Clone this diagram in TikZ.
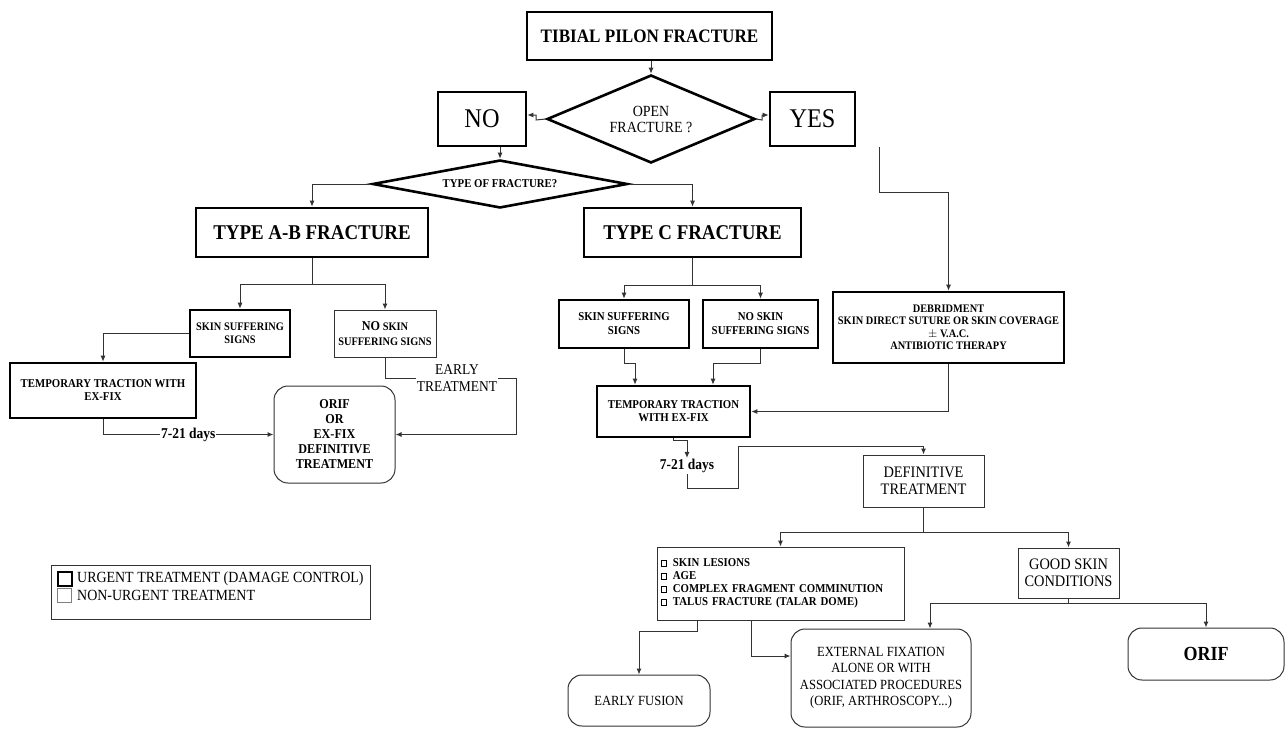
\documentclass[tikz,border=0pt]{standalone}
\usepackage{fontspec}
\setmainfont{Liberation Serif}[FakeStretch=0.9]
\usetikzlibrary{shapes.geometric,arrows.meta,calc}
\newcommand{\fsz}[2]{\fontsize{#1}{#2}\selectfont}
\newcommand{\sqbox}{\raisebox{0.2ex}{\fboxsep=0pt\fboxrule=0.7pt\fbox{\rule{0pt}{4.5pt}\rule{4.5pt}{0pt}}}\hspace{6pt}}
\tikzset{
  urg/.style={draw=black, line width=2.6pt, inner sep=2pt, align=center},
  nurg/.style={draw=black!80, line width=1pt, inner sep=2pt, align=center},
  rnd/.style={nurg, rounded corners=14pt},
  con/.style={draw=black!80, line width=1pt},
  arr/.style={con, -{Latex[length=6pt,width=5pt]}},
  lbl/.style={fill=white, inner sep=1pt, align=center}
}
\begin{document}
\begin{tikzpicture}[x=1pt,y=-1pt]
\useasboundingbox[fill=white] (0,0) rectangle (1287,731);

% top
\node[urg, minimum width=245pt, minimum height=48pt, font=\bfseries\fsz{19}{22}] (title) at (649.5,36) {TIBIAL PILON FRACTURE};
\node[urg, diamond, shape aspect=2.36, minimum width=208pt, minimum height=88pt, inner sep=0pt, font=\fsz{15.5}{16}] (open) at (651,119) {OPEN\\FRACTURE ?};
\node[urg, minimum width=88pt, minimum height=54pt, font=\fsz{27}{30}] (no) at (482,119) {NO};
\node[urg, minimum width=85pt, minimum height=54pt, font=\fsz{27}{30}] (yes) at (812.5,119) {YES};
\node[urg, diamond, shape aspect=5.3, minimum width=255pt, minimum height=48pt, inner sep=0pt, font=\bfseries\fsz{12}{14}] (type) at (500,184) {TYPE OF FRACTURE?};

% type A-B branch
\node[urg, minimum width=232pt, minimum height=49pt, font=\bfseries\fsz{21}{24}] (ab) at (312,232.5) {TYPE A-B FRACTURE};
\node[urg, minimum width=100pt, minimum height=47pt, font=\bfseries\fsz{11.5}{13}] (ss1) at (240,333.5) {SKIN SUFFERING\\SIGNS};
\node[nurg, minimum width=102pt, minimum height=47pt, font=\bfseries\fsz{11.5}{15}] (nss1) at (385,333.5) {{\fsz{13.5}{15}NO} SKIN\\SUFFERING SIGNS};
\node[urg, minimum width=186pt, minimum height=55pt, font=\bfseries\fsz{12}{13}] (tt1) at (103,390.5) {TEMPORARY TRACTION WITH\\EX-FIX};
\node[rnd, minimum width=121pt, minimum height=97pt, font=\bfseries\fsz{13.5}{15}] (orif1) at (334.5,434.5) {ORIF\\OR\\EX-FIX\\DEFINITIVE\\TREATMENT};

% type C branch
\node[urg, minimum width=217pt, minimum height=49pt, font=\bfseries\fsz{21}{24}] (c) at (692.5,232.5) {TYPE C FRACTURE};
\node[urg, minimum width=130pt, minimum height=48pt, font=\bfseries\fsz{12}{14}] (ss2) at (624,324) {SKIN SUFFERING\\SIGNS};
\node[urg, minimum width=115pt, minimum height=48pt, font=\bfseries\fsz{12}{14}] (nss2) at (760.5,324) {NO SKIN\\SUFFERING SIGNS};
\node[urg, minimum width=153pt, minimum height=51pt, font=\bfseries\fsz{12}{13}] (tt2) at (673.5,411.5) {TEMPORARY TRACTION\\WITH EX-FIX};

% open branch
\node[urg, minimum width=231pt, minimum height=71pt, font=\bfseries\fsz{11.5}{12.5}] (deb) at (948.5,327.5) {DEBRIDMENT\\SKIN DIRECT SUTURE OR SKIN COVERAGE\\$\pm$ V.A.C.\\ANTIBIOTIC THERAPY};

% definitive
\node[nurg, minimum width=121pt, minimum height=52pt, font=\fsz{16}{17}] (def) at (923.5,481) {DEFINITIVE\\TREATMENT};
\node[nurg, minimum width=247pt, minimum height=73pt, text width=239pt, inner sep=4pt, align=left, font=\bfseries\fsz{12}{13}] (list) at (780.5,583.5) {\sqbox SKIN LESIONS\\\sqbox AGE\\\sqbox COMPLEX FRAGMENT COMMINUTION\\\sqbox TALUS FRACTURE (TALAR DOME)};
\node[nurg, minimum width=101pt, minimum height=50pt, font=\fsz{16}{17}] (good) at (1068.5,573) {GOOD SKIN\\CONDITIONS};
\node[rnd, minimum width=156pt, minimum height=52pt, font=\bfseries\fsz{20}{22}] (orif2) at (1206,654) {ORIF};
\node[rnd, minimum width=180pt, minimum height=98pt, font=\fsz{14}{16.5}] (ext) at (881,678) {EXTERNAL FIXATION\\ALONE OR WITH\\ASSOCIATED PROCEDURES\\(ORIF, ARTHROSCOPY...)};
\node[rnd, minimum width=142pt, minimum height=51pt, font=\fsz{14}{16}] (fusion) at (639,700.5) {EARLY FUSION};

% legend
\node[draw=black!80, line width=1pt, minimum width=319pt, minimum height=54pt, inner sep=0pt] (leg) at (210.5,592) {};
\node[draw=black, line width=2pt, minimum size=14pt, inner sep=0pt] (lsq1) at (64.5,579) {};
\node[draw=black!50, line width=1pt, minimum size=14pt, inner sep=0pt] (lsq2) at (64.5,595.5) {};
\node[anchor=west, inner sep=0pt, font=\fsz{15.5}{17}] (lt1) at (77,579) {URGENT TREATMENT (DAMAGE CONTROL)};
\node[anchor=west, inner sep=0pt, font=\fsz{15.5}{17}] (lt2) at (77,595.5) {NON-URGENT TREATMENT};

% connectors top
\draw[arr] (open.north |- title.south) -- (open.north);
\coordinate (jl) at (536,120);
\draw[arr] (open.west) -- (jl) |- ($(no.east)+(0,-4)$);
\coordinate (jr) at (762,120);
\draw[arr] (open.east) -- (jr) |- ($(yes.west)+(0,-4)$);
\draw[arr] (type.north |- no.south) -- (type.north);
\draw[arr] (type.west) -| (ab.north);
\draw[arr] (type.east) -| (c.north);

% A-B
\coordinate (abj) at (312,284);
\draw[con] (ab.south) -- (abj);
\draw[arr] (abj) -| (ss1.north);
\draw[arr] (abj) -| (nss1.north);
\draw[arr] (ss1.west) -| (tt1.north);
\draw[arr] (tt1.south) |- node[lbl, pos=0.75, font=\bfseries\fsz{15}{17}] (d1) {7-21 days} (orif1.west);
\coordinate (et1) at (516,378);
\draw[arr] (nss1.south) |- (et1) |- (orif1.east);
\node[lbl, font=\fsz{15}{17}] (etl) at (457,378) {EARLY\\TREATMENT};

% C
\coordinate (cj) at (692.5,285);
\draw[con] (c.south) -- (cj);
\draw[arr] (cj) -| (ss2.north);
\draw[arr] (cj) -| (nss2.north);
\coordinate (t2a) at (635,363);
\draw[arr] (ss2.south) |- (t2a) -- (t2a |- tt2.north);
\coordinate (t2b) at (713,363);
\draw[arr] (nss2.south) |- (t2b) -- (t2b |- tt2.north);

% YES
\coordinate (yb) at (879,192);
\draw[arr] (yb |- yes.south) -- (yb) -| (deb.north);
\draw[arr] (deb.south) |- (tt2.east);

% to definitive
\node[inner sep=1pt, font=\bfseries\fsz{15}{17}] (d2) at (687,466) {7-21 days};
\coordinate (t2o) at (673,440);
\draw[arr] (t2o |- tt2.south) -- (t2o) -| (d2.north);
\coordinate (k1) at (738,488);
\coordinate (k2) at (738,446);
\draw[arr] (d2.south) |- (k1) -- (k2) -| (def.north);

% definitive children
\coordinate (dj) at (923.5,532);
\draw[con] (def.south) -- (dj);
\draw[arr] (dj) -| (list.north);
\draw[arr] (dj) -| (good.north);

\coordinate (gj) at (1068.5,603);
\draw[con] (good.south) -- (gj);
\draw[arr] (gj) -| (orif2.north);
\coordinate (ea) at (930,603);
\draw[arr] (gj) -- (ea) -- (ea |- ext.north);

\coordinate (lf) at (697,631);
\draw[arr] (lf |- list.south) -- (lf) -| (fusion.north);
\coordinate (le) at (751,656);
\draw[arr] (le |- list.south) -- (le) -- (le -| ext.west);
\end{tikzpicture}
\end{document}
